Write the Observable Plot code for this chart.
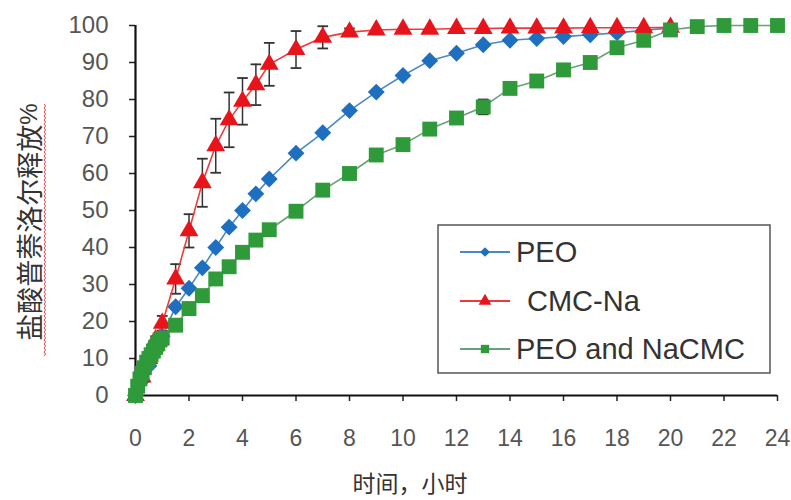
<!DOCTYPE html>
<html>
<head>
<meta charset="utf-8">
<script src="https://cdn.jsdelivr.net/npm/d3@7"></script>
<script src="https://cdn.jsdelivr.net/npm/@observablehq/plot@0.6"></script>
<style>
  html, body { margin: 0; padding: 0; background: #fff; }
  #chart { width: 791px; height: 500px; position: relative; }
</style>
</head>
<body>
<div id="chart"></div>
<script>
// ---- data ----
const seriesNames = ["PEO", "CMC-Na", "PEO and NaCMC"];

const peoTime = [0,0.25,0.5,0.75,1,1.5,2,2.5,3,3.5,4,4.5,5,6,7,8,9,10,11,12,13,14,15,16,17,18,19,20];
const peoRelease = [0,4,8,12,16,24,29,34.5,40,45.5,50,54.5,58.5,65.5,71,77,82,86.5,90.5,92.5,94.8,96,96.5,97,97.5,98,98.7,99.3];

const cmcTime = [0,0.25,0.5,0.75,1,1.5,2,2.5,3,3.5,4,4.5,5,6,7,8,9,10,11,12,13,14,15,16,17,18,19,20];
const cmcRelease = [0,5,10,15,19.5,31.5,44.5,57.5,67.5,74.5,79.5,84,89.5,93.5,96.8,98.2,98.8,99,99,99.2,99.2,99.3,99.3,99.3,99.4,99.4,99.4,99.5];
const cmcError = [0,0,0,1,2,4,4.5,6.5,7.3,7.4,6.3,5.5,5.8,5,3,1,0,0,0,0,0,0,0,0,0,0,0,0];

const mixTime = [0,0.083,0.167,0.25,0.333,0.417,0.5,0.583,0.667,0.75,0.833,0.917,1,1.5,2,2.5,3,3.5,4,4.5,5,6,7,8,9,10,11,12,13,14,15,16,17,18,19,20,21,22,23,24];
const mixRelease = [0,2.5,4.5,6,7.5,9,10,11,12,13,14,15,15.5,19,23.5,27,31.5,34.8,38.7,42,44.8,49.8,55.5,60,65,67.8,72,75,78,83,85,88,90,94,96,98.8,99.7,100,100,100];
const mixError = [0,0,0,0,0,0,0,0,0,0,0,0,0,0,0,0,0,0,0,0,0,0,0,0,0,0,0,1.5,2,1,1.5,1.5,0,0,1,0,0,0,0,0];

const xTicks = [0,2,4,6,8,10,12,14,16,18,20,22,24];
const yTicks = [0,10,20,30,40,50,60,70,80,90,100];
const xTitle = "时间，小时";
const yTitle = "盐酸普萘洛尔释放";
const yTitleSuffix = "%";

// ---- build tables ----
const peo = peoTime.map((t, i) => ({t, v: peoRelease[i]}));
const cmc = cmcTime.map((t, i) => ({t, v: cmcRelease[i], e: cmcError[i]}));
const mix = mixTime.map((t, i) => ({t, v: mixRelease[i], e: mixError[i]}));

const colors = {
  peoLine: "#4a88c8", peoDot: "#1f6fc0",
  cmcLine: "#ee3a3a", cmcDot: "#e8141c",
  mixLine: "#6a9f7a", mixDot: "#2e9a3a"
};
const capHalf = 0.2;

const plot = Plot.plot({
  width: 791,
  height: 500,
  marginLeft: 135,
  marginRight: 14,
  marginTop: 25,
  marginBottom: 105,
  x: {domain: [0, 24]},
  y: {domain: [0, 100]},
  style: {fontFamily: "'Liberation Sans', Arial, sans-serif", background: "#fff"},
  marks: [
    Plot.axisY({ticks: yTicks, tickSize: 6, tickPadding: 21, fontSize: 24, label: null, stroke: "#222", fill: "#555", strokeWidth: 1.5}),
    Plot.axisX({ticks: xTicks, tickSize: 6, tickPadding: 28, fontSize: 23, label: null, stroke: "#222", fill: "#555", strokeWidth: 1.5}),
    Plot.ruleX([0], {stroke: "#111", strokeWidth: 2.2}),
    Plot.ruleY([0], {stroke: "#111", strokeWidth: 2.2}),
    // error bars (CMC-Na)
    Plot.ruleX(cmc.filter(d => d.e > 0), {x: "t", y1: d => d.v - d.e, y2: d => d.v + d.e, stroke: "#333", strokeWidth: 1.5}),
    Plot.link(cmc.filter(d => d.e > 0), {x1: d => d.t - capHalf, x2: d => d.t + capHalf, y1: d => d.v + d.e, y2: d => d.v + d.e, stroke: "#333", strokeWidth: 1.8}),
    Plot.link(cmc.filter(d => d.e > 0), {x1: d => d.t - capHalf, x2: d => d.t + capHalf, y1: d => d.v - d.e, y2: d => d.v - d.e, stroke: "#333", strokeWidth: 1.8}),
    // error bars (mix)
    Plot.ruleX(mix.filter(d => d.e > 0), {x: "t", y1: d => d.v - d.e, y2: d => d.v + d.e, stroke: "#333", strokeWidth: 1.5}),
    Plot.link(mix.filter(d => d.e > 0), {x1: d => d.t - capHalf, x2: d => d.t + capHalf, y1: d => d.v + d.e, y2: d => d.v + d.e, stroke: "#333", strokeWidth: 1.8}),
    Plot.link(mix.filter(d => d.e > 0), {x1: d => d.t - capHalf, x2: d => d.t + capHalf, y1: d => d.v - d.e, y2: d => d.v - d.e, stroke: "#333", strokeWidth: 1.8}),
    // PEO
    Plot.line(peo, {x: "t", y: "v", stroke: colors.peoLine, strokeWidth: 1.6}),
    Plot.dot(peo, {x: "t", y: "v", symbol: "diamond2", r: 7.6, fill: colors.peoDot, stroke: "none"}),
    // CMC-Na
    Plot.line(cmc, {x: "t", y: "v", stroke: colors.cmcLine, strokeWidth: 1.6}),
    Plot.dot(cmc, {x: "t", y: "v", symbol: "triangle", r: 7, fill: colors.cmcDot, stroke: "none"}),
    // PEO and NaCMC
    Plot.line(mix, {x: "t", y: "v", stroke: colors.mixLine, strokeWidth: 1.6}),
    Plot.dot(mix, {x: "t", y: "v", symbol: "square", r: 8.4, fill: colors.mixDot, stroke: "none"})
  ]
});

document.getElementById("chart").appendChild(plot);

const svg = d3.select(plot);

// y title (rotated)
const yt = svg.append("text")
  .attr("transform", "translate(28,222) rotate(-90)")
  .attr("text-anchor", "middle")
  .attr("dominant-baseline", "central")
  .attr("font-family", "'Noto Sans CJK SC', sans-serif")
  .attr("font-size", 27)
  .attr("fill", "#333");
yt.append("tspan").text(yTitle);
yt.append("tspan").attr("font-family", "'Liberation Sans', Arial, sans-serif").attr("font-size", 24).text(yTitleSuffix);

// wavy underline
(function () {
  const x0 = 44, yTop = 104, yBot = 356;
  let d = `M${x0},${yBot}`;
  let k = 0;
  for (let y = yBot - 2; y >= yTop; y -= 2) {
    d += `L${x0 + (k++ % 2 ? 0 : 1.6)},${y}`;
  }
  svg.append("path").attr("d", d).attr("fill", "none").attr("stroke", "#e84848").attr("stroke-width", 1);
})();

// x title
svg.append("text")
  .attr("x", 410).attr("y", 482)
  .attr("text-anchor", "middle")
  .attr("dominant-baseline", "central")
  .attr("font-family", "'Noto Sans CJK SC', sans-serif")
  .attr("font-size", 23)
  .attr("fill", "#333")
  .text(xTitle);

// legend
const lg = svg.append("g").attr("font-family", "'Liberation Sans', Arial, sans-serif").attr("text-anchor", "start");
lg.append("rect").attr("x", 438).attr("y", 225).attr("width", 332).attr("height", 148)
  .attr("fill", "#fff").attr("stroke", "#555").attr("stroke-width", 1.5);
const legendItems = [
  {name: seriesNames[0], line: colors.peoLine, dot: colors.peoDot, sym: d3.symbolDiamond2, size: 60, y: 252, dx: 0},
  {name: seriesNames[1], line: colors.cmcLine, dot: colors.cmcDot, sym: d3.symbolTriangle, size: 70, y: 301, dx: 11},
  {name: seriesNames[2], line: colors.mixLine, dot: colors.mixDot, sym: d3.symbolSquare, size: 70, y: 349, dx: 0}
];
legendItems.forEach(it => {
  lg.append("line").attr("x1", 460).attr("x2", 510).attr("y1", it.y).attr("y2", it.y)
    .attr("stroke", it.line).attr("stroke-width", 1.8);
  lg.append("path").attr("d", d3.symbol(it.sym, it.size)()).attr("transform", `translate(485,${it.y})`)
    .attr("fill", it.dot);
  lg.append("text").attr("x", 516 + it.dx).attr("y", it.y).attr("dominant-baseline", "central")
    .attr("text-anchor", "start")
    .attr("font-size", 29).attr("fill", "#333").text(it.name);
});
</script>
</body>
</html>
